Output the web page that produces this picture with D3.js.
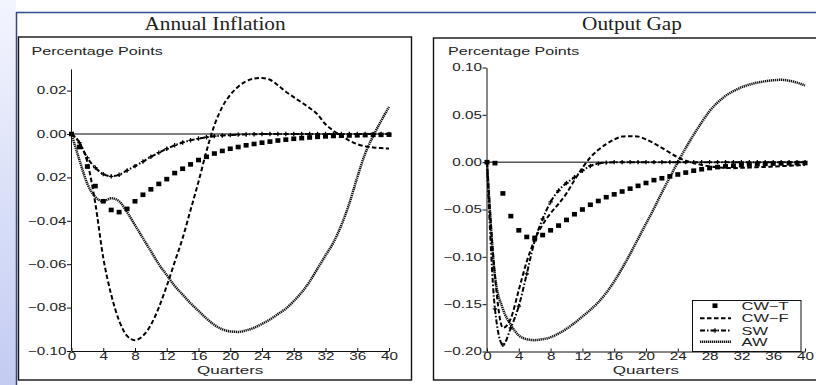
<!DOCTYPE html>
<html>
<head>
<meta charset="utf-8">
<script src="https://cdn.jsdelivr.net/npm/d3@7"></script>
<style>
  body { margin: 0; background: #fff; }
  svg { display: block; font-family: "Liberation Sans", Arial, sans-serif; }
</style>
</head>
<body>
<svg id="chart" width="816" height="385"></svg>
<script>
// x axis: quarter index 0..40 (the array index is the quarter)
var xTicks = [0, 4, 8, 12, 16, 20, 24, 28, 32, 36, 40];

// Annual Inflation panel
var inflTicks  = [-0.10, -0.08, -0.06, -0.04, -0.02, 0.00, 0.02];
var inflLabels = ["\u22120.10", "\u22120.08", "\u22120.06", "\u22120.04", "0.02", "0.00", "0.02"];
var inflCWT = [0, -0.006, -0.015, -0.024, -0.031, -0.035, -0.036, -0.0345, -0.031, -0.028, -0.0255,
  -0.023, -0.0208, -0.018, -0.016, -0.014, -0.012, -0.0105, -0.009, -0.0078, -0.0068,
  -0.006, -0.0052, -0.0046, -0.004, -0.0035, -0.003, -0.0026, -0.0022, -0.0019, -0.0016,
  -0.0013, -0.0011, -0.0009, -0.0008, -0.0007, -0.0006, -0.0005, -0.0004, -0.0004, -0.0003];
var inflCWF = [0, -0.004, -0.013, -0.032, -0.057, -0.074, -0.086, -0.093, -0.095, -0.093, -0.088,
  -0.080, -0.070, -0.059, -0.048, -0.035, -0.022, -0.008, 0.004, 0.0125, 0.018,
  0.0218, 0.0243, 0.0255, 0.0258, 0.025, 0.0225, 0.0195, 0.017, 0.0145, 0.012,
  0.009, 0.0045, 0.0015, -0.0008, -0.003, -0.0047, -0.0057, -0.0062, -0.0065, -0.0067];
var inflSW = [0, -0.004, -0.011, -0.0155, -0.0185, -0.0195, -0.0188, -0.0168, -0.0148, -0.0127, -0.0105,
  -0.0086, -0.0068, -0.0052, -0.0039, -0.0029, -0.0021, -0.0015, -0.001, -0.0007, -0.0005,
  -0.0003, -0.0002, -0.0001, 0, 0, 0, 0, 0, 0, 0,
  0, 0, 0, 0, 0, 0, 0, 0, 0, 0];
var inflAW = [0, -0.012, -0.023, -0.029, -0.031, -0.0296, -0.031, -0.036, -0.042, -0.048, -0.054,
  -0.060, -0.065, -0.070, -0.074, -0.078, -0.0815, -0.085, -0.088, -0.090, -0.091,
  -0.0912, -0.0905, -0.0893, -0.0875, -0.0855, -0.083, -0.0805, -0.077, -0.073, -0.068,
  -0.062, -0.056, -0.050, -0.042, -0.032, -0.020, -0.009, -0.001, 0.006, 0.0125];

// Output Gap panel
var gapTicks  = [-0.20, -0.15, -0.10, -0.05, 0.00, 0.05, 0.10];
var gapLabels = ["\u22120.20", "\u22120.15", "\u22120.10", "\u22120.05", "0.00", "0.05", "0.10"];
var gapCWT = [0, -0.001, -0.033, -0.057, -0.072, -0.079, -0.080, -0.077, -0.072, -0.067, -0.061,
  -0.055, -0.050, -0.045, -0.041, -0.037, -0.034, -0.031, -0.028, -0.025, -0.022,
  -0.019, -0.017, -0.015, -0.013, -0.011, -0.009, -0.0075, -0.0062, -0.0052, -0.0044,
  -0.0037, -0.0031, -0.0026, -0.0022, -0.0018, -0.0015, -0.0013, -0.0011, -0.001, -0.0009];
var gapCWF = [0, -0.12, -0.175, -0.165, -0.135, -0.105, -0.082, -0.066, -0.054, -0.044, -0.033,
  -0.019, -0.006, 0.005, 0.013, 0.019, 0.024, 0.027, 0.0275, 0.027, 0.024,
  0.020, 0.015, 0.010, 0.005, 0.0015, -0.001, -0.003, -0.0045, -0.0055, -0.006,
  -0.0063, -0.006, -0.0057, -0.0053, -0.005, -0.0046, -0.0042, -0.0038, -0.0034, -0.003];
var gapSW = [0, -0.155, -0.193, -0.175, -0.152, -0.118, -0.083, -0.060, -0.042, -0.030, -0.022,
  -0.016, -0.009, -0.004, -0.0015, -0.0005, 0, 0, 0, 0, 0,
  0, 0, 0, 0, 0, 0, 0, 0, 0, 0,
  0, 0, 0, 0, 0, 0, 0, 0, 0, 0];
var gapAW = [0, -0.12, -0.155, -0.172, -0.183, -0.187, -0.188, -0.187, -0.185, -0.181, -0.176,
  -0.170, -0.163, -0.156, -0.148, -0.138, -0.126, -0.112, -0.097, -0.081, -0.065,
  -0.049, -0.032, -0.016, 0, 0.015, 0.029, 0.042, 0.054, 0.063, 0.070,
  0.075, 0.079, 0.082, 0.084, 0.0855, 0.0865, 0.087, 0.086, 0.084, 0.081];

var legendNames = ["CW\u2212T", "CW\u2212F", "SW", "AW"];

var SX = 1.45; // plot text in the source is stretched sideways

var svg = d3.select("#chart");

// left blue strip + slide frame
var grad = svg.append("defs").append("linearGradient")
    .attr("id", "strip").attr("x1", 0).attr("y1", 0).attr("x2", 0).attr("y2", 1);
grad.append("stop").attr("offset", "0%").attr("stop-color", "#f3f5fd");
grad.append("stop").attr("offset", "100%").attr("stop-color", "#c3cbf2");
svg.append("rect").attr("x", 0).attr("y", 0).attr("width", 16).attr("height", 385).attr("fill", "url(#strip)");
svg.append("line").attr("x1", 16).attr("x2", 816).attr("y1", 12.5).attr("y2", 12.5)
    .attr("stroke", "#2d4f8e").attr("stroke-width", 1.5);
svg.append("line").attr("x1", 16.5).attr("x2", 16.5).attr("y1", 12).attr("y2", 385)
    .attr("stroke", "#34497a").attr("stroke-width", 1.5);

// series styles
var styles = {
  CWF: { dash: "4.5,2.5", width: 2, color: "#000" },
  SW:  { dash: "5,2,1.5,2", width: 2, color: "#000" },
  AW:  { dash: "1.3,0.7", width: 2.5, color: "#111" }
};

function plusMark(sel) {
  sel.attr("d", "M-2.2,0H2.2M0,-2.2V2.2").attr("stroke", "#000").attr("stroke-width", 1.3).attr("fill", "none");
}

function panel(o) {
  var g = svg.append("g");

  // panel box + title
  g.append("rect").attr("x", o.box[0]).attr("y", o.box[1]).attr("width", o.box[2]).attr("height", o.box[3])
      .attr("fill", "#fff").attr("stroke", "#111").attr("stroke-width", 1.4);
  g.append("text")
      .attr("transform", "translate(" + o.titleX + ",30) scale(1.12,1)")
      .attr("text-anchor", "middle")
      .style("font-family", "'Liberation Serif', 'DejaVu Serif', serif")
      .style("font-size", "19px").attr("fill", "#222")
      .text(o.title);

  var x = d3.scaleLinear().domain([0, 40]).range(o.xr);
  var y = d3.scaleLinear().domain(o.yd).range(o.yr);

  g.append("text")
      .attr("transform", "translate(" + o.pctX + ",55) scale(1.53,1)")
      .style("font-size", "10.5px").attr("fill", "#222")
      .text("Percentage Points");

  // zero line
  g.append("line").attr("x1", x(0)).attr("x2", x(40)).attr("y1", y(0)).attr("y2", y(0))
      .attr("stroke", "#000").attr("stroke-width", 1);

  // y axis (ticks outward)
  var ya = g.append("g").attr("transform", "translate(" + (x(0) - 0.5) + ",0)")
      .call(d3.axisLeft(y).tickValues(o.yt)
        .tickFormat(function(d, i) { return o.yl[i]; })
        .tickSize(4).tickSizeOuter(0));
  ya.selectAll("text").attr("x", -3.2).attr("transform", "scale(" + SX + ",1)")
      .style("font-family", "'Liberation Sans', Arial, sans-serif").style("font-size", "10.5px").attr("fill", "#222");

  // x axis (ticks inward)
  var xa = g.append("g").attr("transform", "translate(0," + y.range()[0] + ")")
      .call(d3.axisBottom(x).tickValues(xTicks).tickSizeInner(-3).tickSizeOuter(0).tickPadding(1.5));
  xa.selectAll("text").attr("transform", "scale(" + SX + ",1)")
      .style("font-family", "'Liberation Sans', Arial, sans-serif").style("font-size", "10.5px").attr("fill", "#222");
  ya.selectAll("path,line").attr("stroke", "#111");
  xa.selectAll("path,line").attr("stroke", "#111");

  g.append("text")
      .attr("transform", "translate(" + ((o.xr[0] + o.xr[1]) / 2) + ",374) scale(1.55,1)")
      .attr("text-anchor", "middle")
      .style("font-size", "11px").attr("fill", "#222")
      .text("Quarters");

  var line = d3.line()
      .x(function(d, i) { return x(i); })
      .y(function(d) { return y(d); })
      .curve(d3.curveMonotoneX);

  function drawLine(data, s) {
    g.append("path").datum(data)
        .attr("d", line)
        .attr("fill", "none")
        .attr("stroke", s.color)
        .attr("stroke-width", s.width)
        .attr("stroke-dasharray", s.dash);
  }

  drawLine(o.aw, styles.AW);
  drawLine(o.cwf, styles.CWF);
  drawLine(o.sw, styles.SW);

  g.selectAll(".plus").data(o.sw).enter().append("path")
      .attr("class", "plus")
      .attr("transform", function(d, i) { return "translate(" + x(i) + "," + y(d) + ")"; })
      .call(plusMark);

  g.selectAll(".sq").data(o.cwt).enter().append("rect")
      .attr("class", "sq")
      .attr("x", function(d, i) { return x(i) - 2.5; })
      .attr("y", function(d) { return y(d) - 2.3; })
      .attr("width", 5).attr("height", 4.6)
      .attr("fill", "#000");

  return g;
}

panel({
  title: "Annual Inflation", titleX: 215, pctX: 31.5,
  box: [18.5, 37, 393, 343],
  xr: [71.5, 389], yd: [-0.10, 0.03], yr: [351, 68.9],
  yt: inflTicks, yl: inflLabels,
  cwt: inflCWT, cwf: inflCWF, sw: inflSW, aw: inflAW
});

var gp = panel({
  title: "Output Gap", titleX: 632, pctX: 448,
  box: [433.5, 38, 400, 342],
  xr: [487, 805], yd: [-0.20, 0.10], yr: [351.5, 67.5],
  yt: gapTicks, yl: gapLabels,
  cwt: gapCWT, cwf: gapCWF, sw: gapSW, aw: gapAW
});

// legend
var lg = gp.append("g");
lg.append("rect").attr("x", 692.5).attr("y", 300.5).attr("width", 108.5).attr("height", 51)
    .attr("fill", "#fff").attr("stroke", "#111").attr("stroke-width", 1);
var rowY = [305.7, 318.2, 330.5, 341.7];
var kinds = ["CWT", "CWF", "SW", "AW"];
lg.selectAll(".row").data(legendNames).enter().append("g")
    .attr("class", "row")
    .each(function(name, i) {
      var r = d3.select(this);
      var k = kinds[i];
      if (k === "CWT") {
        r.append("rect").attr("x", 712.5).attr("y", rowY[i] - 2.3).attr("width", 5).attr("height", 4.6).attr("fill", "#000");
      } else {
        var s = styles[k];
        r.append("line").attr("x1", 700).attr("x2", 731).attr("y1", rowY[i]).attr("y2", rowY[i])
            .attr("stroke", s.color).attr("stroke-width", s.width).attr("stroke-dasharray", s.dash);
        if (k === "SW") {
          r.append("path").attr("transform", "translate(715," + rowY[i] + ")").call(plusMark);
        }
      }
      r.append("text")
          .attr("transform", "translate(741.5," + (rowY[i] + 4) + ") scale(1.5,1)")
          .style("font-size", "11px").attr("fill", "#222")
          .text(name);
    });
</script>
</body>
</html>
